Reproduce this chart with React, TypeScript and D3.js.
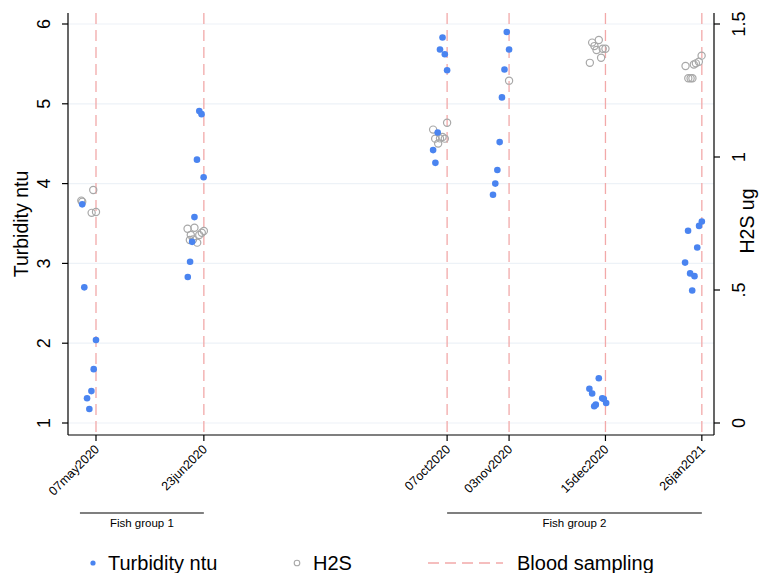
import React from "react";
import * as d3 from "d3";

// Blood sampling dates (x axis ticks)
const samplingDates = ["2020-05-07", "2020-06-23", "2020-10-07", "2020-11-03", "2020-12-15", "2021-01-26"];
const tickLabels = ["07may2020", "23jun2020", "07oct2020", "03nov2020", "15dec2020", "26jan2021"];

// Turbidity (ntu): day offsets relative to each sampling date, and values
const turbidityOffsets = [
  [-6.0, -5.1, 0, -1.0, -2.0, -3.9, -2.9],
  [-2.0, -1.0, -3.0, -0.1, -4.1, -5.1, -6.0, -7.0],
  [-2.0, -3.1, -1.0, 0, -4.1, -6.1, -5.1],
  [-1.0, 0, -2.0, -3.1, -4.1, -5.1, -6.0, -7.0],
  [-2.9, -7.0, -5.8, -1.4, 0.3, -4.2, -4.9, -0.7],
  [0, -1.2, -6.0, -2.0, -7.3, -5.1, -3.2, -4.2],
];
const turbidityValues = [
  [3.74, 2.70, 2.04, 1.675, 1.40, 1.31, 1.175],
  [4.91, 4.87, 4.30, 4.08, 3.58, 3.27, 3.02, 2.83],
  [5.83, 5.68, 5.62, 5.42, 4.64, 4.42, 4.26],
  [5.90, 5.68, 5.43, 5.08, 4.52, 4.17, 4.00, 3.86],
  [1.56, 1.43, 1.37, 1.31, 1.25, 1.23, 1.21, 1.30],
  [3.525, 3.47, 3.41, 3.20, 3.01, 2.875, 2.84, 2.66],
];

// H2S (ug): day offsets relative to each sampling date, and values
const h2sOffsets = [
  [-1.2, -6.0, -1.9, 0, -6.4],
  [-7.1, -4.1, -5.7, -2.0, 0, -0.9, -6.1, -2.9, -4.7],
  [0, -6.1, -5.2, -2.0, -1.0, -3.9, -3.1],
  [0],
  [-5.8, -2.9, -4.8, -3.9, -1.2, 0, -6.8, -1.9],
  [-0.1, -7.1, -3.5, -2.6, -1.3, -5.9, -4.9, -4.1],
];
const h2sValues = [
  [0.876, 0.832, 0.79, 0.793, 0.836],
  [0.730, 0.734, 0.707, 0.707, 0.722, 0.715, 0.688, 0.678, 0.69],
  [1.129, 1.103, 1.069, 1.075, 1.069, 1.051, 1.07],
  [1.287],
  [1.43, 1.44, 1.417, 1.402, 1.407, 1.407, 1.354, 1.373],
  [1.381, 1.342, 1.348, 1.352, 1.358, 1.296, 1.296, 1.296],
];

const leftTicks = [1, 2, 3, 4, 5, 6];
const rightTicks = [0, 0.5, 1, 1.5];
const rightTickLabels = ["0", ".5", "1", "1.5"];

const groupLabels = ["Fish group 1", "Fish group 2"];
const groupFrom = ["2020-04-30", "2020-10-07"];
const groupTo = ["2020-06-23", "2021-01-26"];

const FONT = "'Liberation Sans', Arial, Helvetica, sans-serif";
const BLUE = "#4a84f0";
const GRAY = "#a8a8a8";
const PINK = "#f2a9a9";

const DAY = 86400000;
const parse = (s: string) => new Date(s + "T00:00:00Z");

export default function App() {
  const W = 768, H = 573;
  const left = 68, right = 714, top = 13, bottom = 435;

  const x = d3
    .scaleUtc()
    .domain([new Date(parse("2020-05-07").getTime() - 12.2 * DAY), new Date(parse("2020-05-07").getTime() + 269.3 * DAY)])
    .range([left, right]);
  const yL = d3.scaleLinear().domain([1, 6]).range([423, 24]);
  const yR = d3.scaleLinear().domain([0, 1.5]).range([423, 24]);

  const dx = (date: string, off: number) => x(new Date(parse(date).getTime() + off * DAY));

  return (
    <svg width={W} height={H} style={{ position: "absolute", left: 0, top: 0, background: "#fff" }} fontFamily={FONT}>
      <rect width={W} height={H} fill="#fff" />
      {/* grid */}
      {leftTicks.map((t) => (
        <line key={"g" + t} x1={left} x2={right} y1={yL(t)} y2={yL(t)} stroke="#edf2f7" strokeWidth={1.2} />
      ))}
      {/* blood sampling lines */}
      {samplingDates.map((d) => (
        <line key={"b" + d} x1={x(parse(d))} x2={x(parse(d))} y1={top} y2={bottom} stroke={PINK} strokeWidth={1.3} strokeDasharray="11 6" />
      ))}
      {/* H2S hollow circles */}
      {h2sValues.map((vals, i) =>
        vals.map((v, j) => (
          <circle key={`h${i}-${j}`} cx={dx(samplingDates[i], h2sOffsets[i][j])} cy={yR(v)} r={3.6} fill="none" stroke={GRAY} strokeWidth={1.2} />
        ))
      )}
      {/* Turbidity dots */}
      {turbidityValues.map((vals, i) =>
        vals.map((v, j) => (
          <circle key={`t${i}-${j}`} cx={dx(samplingDates[i], turbidityOffsets[i][j])} cy={yL(v)} r={3.3} fill={BLUE} />
        ))
      )}
      {/* axes */}
      <line x1={left} x2={left} y1={top} y2={bottom} stroke="#000" strokeWidth={1.2} />
      <line x1={right} x2={right} y1={top} y2={bottom} stroke="#000" strokeWidth={1.2} />
      <line x1={left} x2={right} y1={bottom} y2={bottom} stroke="#000" strokeWidth={1.2} />
      {leftTicks.map((t) => (
        <g key={"l" + t}>
          <line x1={left - 6} x2={left} y1={yL(t)} y2={yL(t)} stroke="#000" strokeWidth={1.2} />
          <text transform={`translate(50,${yL(t)}) rotate(-90)`} textAnchor="middle" fontSize={18} fill="#000">
            {t}
          </text>
        </g>
      ))}
      {rightTicks.map((t, i) => (
        <g key={"r" + t}>
          <line x1={right} x2={right + 6} y1={yR(t)} y2={yR(t)} stroke="#000" strokeWidth={1.2} />
          <text transform={`translate(732,${yR(t)}) rotate(-90)`} textAnchor="middle" dy="0.72em" fontSize={18} fill="#000">
            {rightTickLabels[i]}
          </text>
        </g>
      ))}
      <text transform={`translate(28,${224}) rotate(-90)`} textAnchor="middle" fontSize={19.5} fill="#000">
        Turbidity ntu
      </text>
      <text transform={`translate(754,${221}) rotate(-90)`} textAnchor="middle" fontSize={19.5} fill="#000">
        H2S ug
      </text>
      {samplingDates.map((d, i) => (
        <g key={"x" + d}>
          <line x1={x(parse(d))} x2={x(parse(d))} y1={bottom} y2={bottom + 6} stroke="#000" strokeWidth={1.2} />
          <text transform={`translate(${x(parse(d)) + 4},${bottom + 15}) rotate(-45)`} textAnchor="end" fontSize={12.5} fill="#000">
            {tickLabels[i]}
          </text>
        </g>
      ))}
      {/* fish group annotations */}
      {groupLabels.map((g, i) => (
        <g key={g}>
          <line x1={x(parse(groupFrom[i]))} x2={x(parse(groupTo[i]))} y1={513} y2={513} stroke="#000" strokeWidth={1.2} />
          <text x={(x(parse(groupFrom[i])) + x(parse(groupTo[i]))) / 2} y={527} textAnchor="middle" fontSize={11.5} fill="#000">
            {g}
          </text>
        </g>
      ))}
      {/* legend */}
      <circle cx={93} cy={563} r={2.6} fill={BLUE} />
      <text x={108} y={570} fontSize={20} fill="#000">Turbidity ntu</text>
      <circle cx={297} cy={563} r={2.8} fill="none" stroke={GRAY} strokeWidth={1.1} />
      <text x={313} y={570} fontSize={20} fill="#000">H2S</text>
      <line x1={428} x2={503} y1={563} y2={563} stroke={PINK} strokeWidth={1.3} strokeDasharray="11 6" />
      <text x={517} y={570} fontSize={20} fill="#000">Blood sampling</text>
    </svg>
  );
}
